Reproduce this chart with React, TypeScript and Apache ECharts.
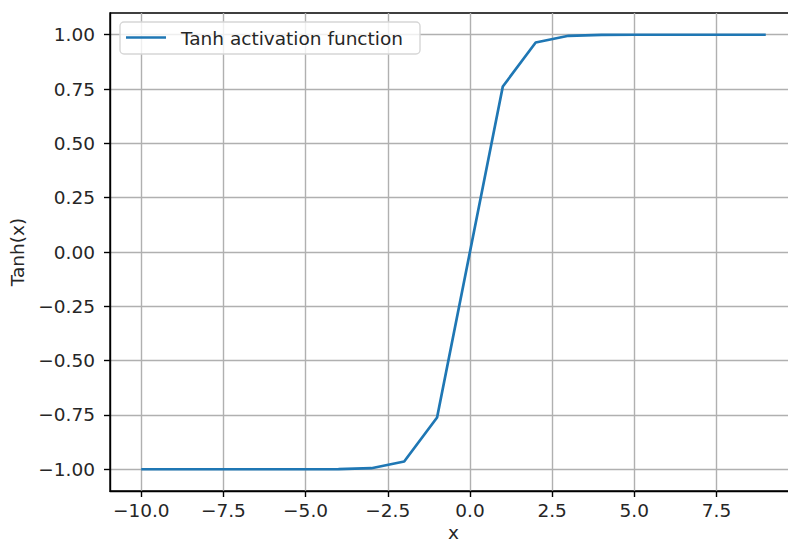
import React, { useEffect, useRef } from "react";
import * as echarts from "echarts";

const xValues = [-10, -9, -8, -7, -6, -5, -4, -3, -2, -1, 0, 1, 2, 3, 4, 5, 6, 7, 8, 9];
const yValues = [
  -1.0, -1.0, -1.0, -1.0, -1.0, -0.9999, -0.9993, -0.9951, -0.964, -0.7616,
  0.0, 0.7616, 0.964, 0.9951, 0.9993, 0.9999, 1.0, 1.0, 1.0, 1.0,
];
const xTicks = [-10, -7.5, -5, -2.5, 0, 2.5, 5, 7.5];
const yTicks = [-1, -0.75, -0.5, -0.25, 0, 0.25, 0.5, 0.75, 1];
const seriesName = "Tanh activation function";
const xTitle = "x";
const yTitle = "Tanh(x)";

const FONT = "DejaVu Sans";
const TEXT = "#262626";
const FS = 18.5;

const fmt = (v: number, d: number) => v.toFixed(d).replace("-", "\u2212");

export default function App() {
  const ref = useRef<HTMLDivElement>(null);
  useEffect(() => {
    if (!ref.current) return;
    const chart = echarts.init(ref.current, undefined, { renderer: "svg" });
    const gridLine = { show: true, lineStyle: { color: "#b0b0b0", width: 1.4 } };
    const axisLine = { show: true, onZero: false, lineStyle: { color: "#000", width: 1.4 } };
    chart.setOption({
      animation: false,
      backgroundColor: "#ffffff",
      grid: {
        left: 110,
        top: 13,
        width: 687,
        height: 478,
        outerBoundsMode: "none",
        containLabel: false,
        show: true,
        borderColor: "#000",
        borderWidth: 1.4,
        backgroundColor: "transparent",
      },
      xAxis: {
        type: "value",
        min: -10.95,
        max: 9.95,
        name: xTitle,
        nameLocation: "middle",
        nameGap: 31,
        nameMoveOverlap: false,
        nameTextStyle: { fontFamily: FONT, fontSize: FS, color: TEXT, lineHeight: 20 },
        axisLine,
        axisTick: { show: true, length: 6, customValues: xTicks, lineStyle: { color: "#000", width: 1.4 } },
        axisLabel: {
          customValues: xTicks,
          margin: 10,
          fontFamily: FONT,
          fontSize: FS,
          color: TEXT,
          formatter: (v: number) => fmt(v, 1),
        },
        splitLine: gridLine,
      },
      yAxis: {
        type: "value",
        min: -1.1,
        max: 1.1,
        name: yTitle,
        nameLocation: "middle",
        nameGap: 83,
        nameMoveOverlap: false,
        nameTextStyle: { fontFamily: FONT, fontSize: FS, color: TEXT },
        axisLine,
        axisTick: { show: true, length: 6, customValues: yTicks, lineStyle: { color: "#000", width: 1.4 } },
        axisLabel: {
          customValues: yTicks,
          margin: 15,
          fontFamily: FONT,
          fontSize: FS,
          color: TEXT,
          formatter: (v: number) => fmt(v, 2),
        },
        splitLine: gridLine,
      },
      series: [
        {
          name: seriesName,
          type: "line",
          data: xValues.map((x, i) => [x, yValues[i]]),
          symbol: "none",
          lineStyle: { color: "#1f77b4", width: 2.7 },
          z: 5,
        },
      ],
      graphic: [
        {
          type: "rect",
          shape: { x: 120, y: 22, width: 300, height: 32, r: 4 },
          style: { fill: "rgba(255,255,255,0.8)", stroke: "#d6d6d6", lineWidth: 1.4 },
          z: 100,
        },
        {
          type: "line",
          shape: { x1: 126, y1: 37.5, x2: 166, y2: 37.5 },
          style: { stroke: "#1f77b4", lineWidth: 2.7 },
          z: 101,
        },
        {
          type: "text",
          x: 181,
          y: 38,
          style: {
            text: seriesName,
            fontFamily: FONT,
            fontSize: FS,
            fill: TEXT,
            verticalAlign: "middle",
            align: "left",
          },
          z: 101,
        },
      ],
    });
    return () => chart.dispose();
  }, []);
  return (
    <div
      ref={ref}
      style={{ position: "fixed", left: 0, top: 0, width: 788, height: 543, background: "#fff" }}
    />
  );
}
